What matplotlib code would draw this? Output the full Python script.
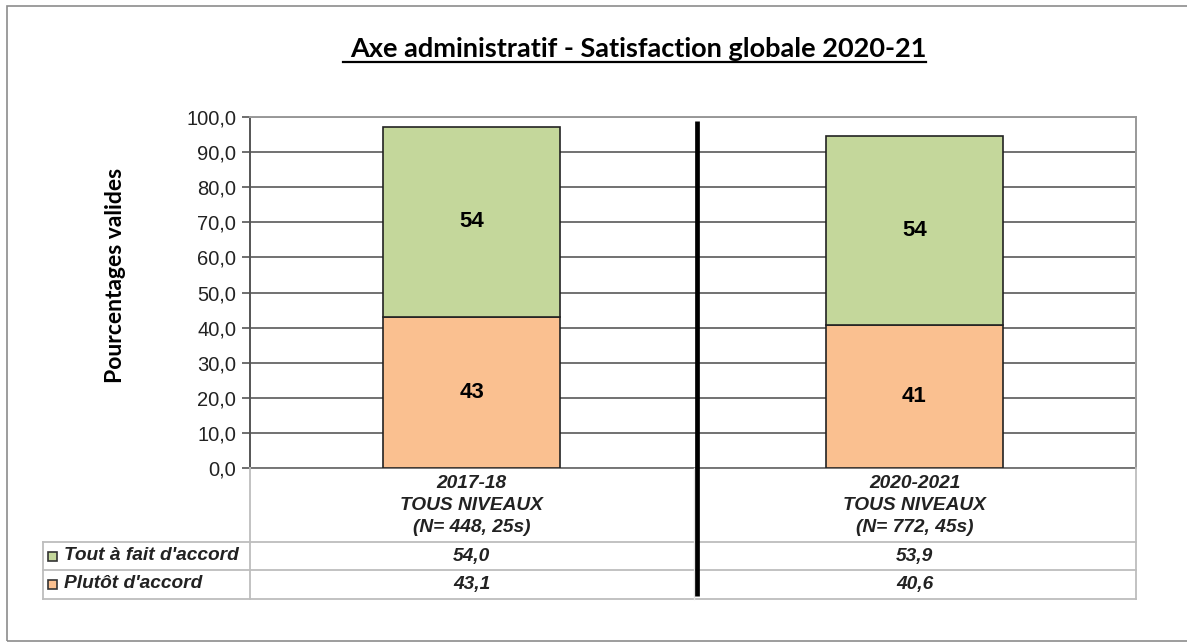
import matplotlib
matplotlib.use("Agg")
import matplotlib.pyplot as plt
from matplotlib.lines import Line2D
from matplotlib.patches import Rectangle
from matplotlib.transforms import blended_transform_factory

# donnees
categories = ["2017-18\nTOUS NIVEAUX\n(N= 448, 25s)", "2020-2021\nTOUS NIVEAUX\n(N= 772, 45s)"]
series_names = ["Tout à fait d'accord", "Plutôt d'accord"]
tout_a_fait = [54.0, 53.9]
plutot = [43.1, 40.6]
couleurs = ["#c4d79b", "#fac090"]

W, H = 1187, 644
fig = plt.figure(figsize=(W / 100, H / 100), dpi=100)
fig.patch.set_facecolor("white")

def px(x, y):
    return x / W, 1 - y / H

def ligne(x0, y0, x1, y1, **kw):
    a, b = px(x0, y0)
    c, d = px(x1, y1)
    fig.add_artist(Line2D([a, c], [b, d], transform=fig.transFigure, **kw))

# cadre exterieur
fig.add_artist(Rectangle(px(7, 641), (1190 - 7) / W, (641 - 6) / H, transform=fig.transFigure,
                         fill=False, edgecolor="#8c8c8c", lw=1.2))

ax_l, ax_t, ax_r, ax_b = 250, 117, 1136, 468
ax = fig.add_axes([ax_l / W, 1 - ax_b / H, (ax_r - ax_l) / W, (ax_b - ax_t) / H])

x = list(range(len(categories)))
ax.bar(x, plutot, width=0.4, color=couleurs[1], edgecolor="#222222", lw=1.2, zorder=3)
ax.bar(x, tout_a_fait, width=0.4, bottom=plutot, color=couleurs[0], edgecolor="#222222", lw=1.2, zorder=3)

for i in x:
    ax.text(i, plutot[i] / 2, f"{plutot[i]:.0f}", ha="center", va="center",
            fontsize=16, fontweight="bold", family="Liberation Sans", zorder=4)
    ax.text(i, plutot[i] + tout_a_fait[i] / 2, f"{tout_a_fait[i]:.0f}", ha="center", va="center",
            fontsize=16, fontweight="bold", family="Liberation Sans", zorder=4)

ax.set_xlim(-0.5, 1.5)
ax.set_ylim(0, 100)
ax.set_yticks(range(0, 101, 10))
ax.set_yticklabels([f"{v:.1f}".replace(".", ",") for v in range(0, 101, 10)],
                   fontsize=14.5, family="Liberation Sans", color="#222222")
ax.set_xticks([])
ax.tick_params(axis="y", length=6, width=1.2, color="#555555", pad=4)
ax.yaxis.grid(True, color="#666666", lw=1.3, zorder=0)
ax.set_axisbelow(True)
ax.spines["left"].set_color("#555555")
ax.spines["left"].set_linewidth(1.4)
for s in ["top", "right"]:
    ax.spines[s].set_color("#999999")
    ax.spines[s].set_linewidth(1.4)
ax.spines["bottom"].set_color("#777777")
ax.spines["bottom"].set_linewidth(1.4)

fig.text(115 / W, 1 - 275 / H, "Pourcentages valides", rotation=90, ha="center", va="center",
         fontsize=16.5, fontweight="bold", family="Lato")

# tableau sous le graphique
gris = "#bdbdbd"
for yy in [542, 570, 599]:
    ligne(43, yy, ax_r, yy, color=gris, lw=1.3)
ligne(43, 542, 43, 599, color=gris, lw=1.3)
ligne(ax_l, ax_b, ax_l, 599, color=gris, lw=1.3)
ligne(694, ax_b, 694, 599, color="#e6e6e6", lw=1)
ligne(ax_r, ax_b, ax_r, 599, color=gris, lw=1.3)

tr = blended_transform_factory(ax.transData, fig.transFigure)
tf = dict(fontsize=13.8, fontweight="bold", fontstyle="italic", family="Liberation Sans", color="#222222")
for i, cat in enumerate(categories):
    for j, part in enumerate(cat.split("\n")):
        ax.text(i, 1 - (484 + 22 * j) / H, part, transform=tr, ha="center", va="center", clip_on=False, **tf)
    ax.text(i, 1 - 556 / H, f"{tout_a_fait[i]:.1f}".replace(".", ","), transform=tr,
            ha="center", va="center", clip_on=False, **tf)
    ax.text(i, 1 - 584 / H, f"{plutot[i]:.1f}".replace(".", ","), transform=tr,
            ha="center", va="center", clip_on=False, **tf)

for yy, nom, c in zip([556, 584], series_names, couleurs):
    fig.add_artist(Rectangle(px(48, yy + 4.5), 9 / W, 9 / H, transform=fig.transFigure,
                             facecolor=c, edgecolor="#333333", lw=1.2))
    fig.text(64 / W, 1 - yy / H, nom, ha="left", va="center", **tf)

# separateur entre les deux annees, trace par-dessus le tableau
fig.add_artist(Line2D([0.51, 0.51], [1 - 121 / H, 1 - 596 / H], transform=tr, color="black",
                      lw=3.4, solid_capstyle="butt"))

# titre souligne
titre = fig.text(638 / W, 1 - 49 / H, "Axe administratif - Satisfaction globale 2020-21",
                 ha="center", va="center", fontsize=19.5, fontweight="bold", family="Lato")
fig.canvas.draw()
bb = titre.get_window_extent()
fig.add_artist(Line2D([(bb.x0 - 7) / W, bb.x1 / W], [(bb.y0 - 1) / H, (bb.y0 - 1) / H],
                      transform=fig.transFigure, color="black", lw=1.6))

fig.savefig("out.png", dpi=100)
